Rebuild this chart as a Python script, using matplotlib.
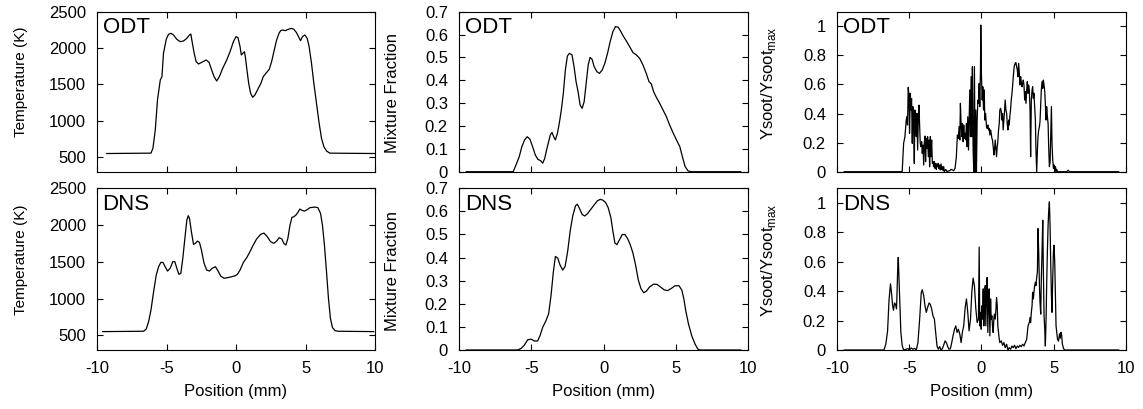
import matplotlib
matplotlib.use("Agg")
import matplotlib.pyplot as plt
from matplotlib.ticker import FuncFormatter

plt.rcParams['font.family'] = ['Liberation Sans', 'DejaVu Sans']
plt.rcParams['axes.unicode_minus'] = False

# ---- temperature (K) ----
odt_T_x = [-9.3, -6.12, -5.98, -5.81, -5.65, -5.45, -5.33, -5.22, -5.02, -4.86, -4.69, -4.50,
           -4.26, -4.02, -3.78, -3.54, -3.35, -3.25, -3.16, -3.01, -2.87, -2.70, -2.46, -2.15,
           -1.94, -1.75, -1.58, -1.39, -1.20, -0.96, -0.67, -0.43, -0.19, 0.0, 0.14, 0.29, 0.38,
           0.60, 0.67, 0.77, 0.91, 1.05, 1.20, 1.36, 1.60, 1.79, 1.96, 2.15, 2.39, 2.56, 2.75,
           2.92, 3.09, 3.21, 3.35, 3.54, 3.76, 4.00, 4.16, 4.35, 4.52, 4.64, 4.78, 4.95, 5.12,
           5.26, 5.43, 5.60, 5.79, 5.98, 6.15, 6.32, 6.51, 6.75, 10.0]
odt_T = [550, 555, 621, 873, 1286, 1561, 1607, 1928, 2120, 2189, 2203, 2180,
         2120, 2088, 2097, 2134, 2180, 2193, 2088, 1928, 1813, 1781, 1804, 1836,
         1804, 1698, 1607, 1547, 1607, 1721, 1836, 1950, 2088, 2157, 2143, 2019, 1905,
         1950, 1882, 1721, 1515, 1378, 1323, 1355, 1446, 1515, 1607, 1653, 1708, 1813, 1973,
         2111, 2203, 2239, 2248, 2239, 2258, 2271, 2258, 2212, 2148, 2102, 2157, 2180, 2134,
         2019, 1790, 1515, 1240, 965, 759, 644, 585, 555, 550]

dns_T_x = [-9.6, -6.65, -6.46, -6.29, -6.12, -5.93, -5.74, -5.57, -5.41, -5.26, -5.10, -4.93,
           -4.74, -4.55, -4.40, -4.26, -4.11, -3.97, -3.83, -3.68, -3.54, -3.44, -3.35, -3.21,
           -3.06, -2.92, -2.78, -2.63, -2.49, -2.30, -2.11, -1.91, -1.72, -1.48, -1.29, -1.10,
           -0.86, -0.62, -0.38, -0.05, 0.10, 0.29, 0.53, 0.77, 1.00, 1.24, 1.48, 1.77, 2.01,
           2.25, 2.49, 2.73, 2.92, 3.11, 3.30, 3.44, 3.59, 3.73, 3.88, 4.02, 4.16, 4.31, 4.45,
           4.59, 4.74, 4.93, 5.12, 5.31, 5.69, 5.89, 6.08, 6.22, 6.36, 6.51, 6.65, 6.79, 6.94,
           7.13, 7.34, 9.9]
dns_T = [550, 555, 586, 685, 844, 1093, 1320, 1433, 1492, 1492, 1433, 1374,
         1411, 1501, 1501, 1411, 1329, 1343, 1547, 1819, 2068, 2127, 2091, 1909,
         1737, 1751, 1782, 1764, 1660, 1479, 1388, 1374, 1411, 1433, 1374, 1306,
         1275, 1284, 1293, 1311, 1329, 1388, 1492, 1556, 1637, 1728, 1810, 1873, 1891,
         1841, 1773, 1751, 1782, 1828, 1810, 1751, 1728, 1819, 1996, 2104, 2113, 2136, 2172,
         2218, 2200, 2190, 2209, 2236, 2245, 2236, 2159, 1996, 1728, 1365, 1003, 731, 604,
         563, 555, 550]

# ---- mixture fraction ----
odt_Z_x = [-9.5, -6.25, -6.06, -5.83, -5.65, -5.46, -5.28, -5.09, -4.91, -4.72, -4.54, -4.35,
           -4.21, -4.07, -3.94, -3.80, -3.68, -3.56, -3.45, -3.33, -3.19, -3.06, -2.92, -2.78,
           -2.64, -2.50, -2.36, -2.18, -2.04, -1.90, -1.76, -1.62, -1.48, -1.34, -1.20, -1.06,
           -0.93, -0.79, -0.65, -0.46, -0.28, -0.09, 0.09, 0.28, 0.46, 0.65, 0.83, 1.02, 1.20,
           1.39, 1.57, 1.81, 2.04, 2.27, 2.50, 2.73, 2.96, 3.15, 3.31, 3.47, 3.66, 3.89, 4.12,
           4.35, 4.58, 4.81, 5.05, 5.28, 5.46, 5.65, 5.86, 6.09, 9.5]
odt_Z = [0, 0, 0.029, 0.066, 0.110, 0.139, 0.153, 0.142, 0.110, 0.073, 0.054, 0.048,
         0.037, 0.058, 0.095, 0.131, 0.161, 0.172, 0.153, 0.139, 0.168, 0.212, 0.270, 0.343,
         0.445, 0.506, 0.518, 0.511, 0.460, 0.394, 0.350, 0.292, 0.277, 0.306, 0.387, 0.467,
         0.500, 0.492, 0.460, 0.438, 0.430, 0.445, 0.474, 0.518, 0.569, 0.613, 0.635, 0.632, 0.613,
         0.591, 0.573, 0.547, 0.521, 0.511, 0.496, 0.467, 0.430, 0.394, 0.384, 0.350, 0.325, 0.299,
         0.270, 0.241, 0.204, 0.171, 0.139, 0.110, 0.066, 0.022, 0.003, 0, 0]

dns_Z_x = [-9.5, -5.95, -5.72, -5.49, -5.25, -5.02, -4.79, -4.56, -4.40, -4.21, -3.98, -3.80,
           -3.63, -3.47, -3.33, -3.17, -3.01, -2.82, -2.66, -2.48, -2.31, -2.13, -1.94, -1.81,
           -1.67, -1.48, -1.30, -1.11, -0.88, -0.65, -0.42, -0.23, -0.05, 0.14, 0.32, 0.51,
           0.65, 0.79, 0.93, 1.11, 1.30, 1.48, 1.67, 1.85, 2.04, 2.22, 2.41, 2.59, 2.78, 2.96,
           3.19, 3.47, 3.70, 3.94, 4.21, 4.44, 4.68, 4.95, 5.23, 5.42, 5.56, 5.69, 5.88, 6.11,
           6.34, 6.53, 6.67, 9.5]
dns_Z = [0, 0, 0.006, 0.020, 0.044, 0.047, 0.039, 0.039, 0.061, 0.098, 0.127, 0.156,
         0.237, 0.339, 0.405, 0.398, 0.368, 0.346, 0.361, 0.427, 0.514, 0.580, 0.624, 0.631,
         0.614, 0.587, 0.580, 0.590, 0.609, 0.628, 0.646, 0.652, 0.649, 0.639, 0.617, 0.573,
         0.514, 0.463, 0.456, 0.478, 0.500, 0.500, 0.482, 0.456, 0.419, 0.368, 0.303, 0.266,
         0.248, 0.254, 0.273, 0.285, 0.284, 0.273, 0.260, 0.257, 0.266, 0.278, 0.278, 0.259,
         0.222, 0.171, 0.113, 0.061, 0.025, 0.004, 0, 0]

# ---- normalised soot mass fraction ----
odt_S_x = [-9.5, -5.49, -5.39, -5.30, -5.21, -5.16, -5.12, -5.07, -5.02, -4.98, -4.93, -4.88,
           -4.84, -4.79, -4.75, -4.70, -4.65, -4.61, -4.56, -4.51, -4.47, -4.42, -4.37, -4.33,
           -4.28, -4.24, -4.19, -4.14, -4.10, -4.05, -4.00, -3.96, -3.91, -3.87, -3.82, -3.77,
           -3.73, -3.68, -3.63, -3.59, -3.54, -3.50, -3.45, -3.40, -3.36, -3.31, -3.26, -3.22,
           -3.17, -3.13, -3.08, -3.03, -2.99, -2.94, -2.89, -2.85, -2.80, -2.75, -2.71, -2.66,
           -2.62, -2.57, -2.48, -2.38, -2.29, -2.20, -2.11, -2.01, -1.92, -1.83, -1.74, -1.67,
           -1.60, -1.55, -1.50, -1.46, -1.41, -1.37, -1.32, -1.27, -1.23, -1.18, -1.13, -1.09,
           -1.04, -1.00, -0.95, -0.90, -0.86, -0.81, -0.76, -0.72, -0.67, -0.63, -0.58, -0.53,
           -0.49, -0.44, -0.39, -0.35, -0.30, -0.25, -0.21, -0.16, -0.12, -0.07, -0.05, 0.00,
           0.05, 0.09, 0.14, 0.19, 0.23, 0.28, 0.35, 0.39, 0.44, 0.49, 0.53, 0.58, 0.63, 0.67,
           0.72, 0.76, 0.81, 0.86, 0.90, 0.95, 1.00, 1.04, 1.09, 1.13, 1.18, 1.23, 1.27, 1.32,
           1.37, 1.41, 1.46, 1.50, 1.55, 1.60, 1.64, 1.69, 1.74, 1.78, 1.83, 1.88, 1.92, 1.97,
           2.01, 2.06, 2.11, 2.15, 2.20, 2.25, 2.29, 2.34, 2.38, 2.43, 2.48, 2.52, 2.57, 2.62,
           2.66, 2.71, 2.75, 2.80, 2.85, 2.89, 2.94, 2.99, 3.03, 3.08, 3.13, 3.17, 3.22, 3.26,
           3.31, 3.36, 3.40, 3.45, 3.50, 3.54, 3.59, 3.63, 3.68, 3.73, 3.77, 3.82, 3.87, 3.91,
           3.96, 4.01, 4.05, 4.10, 4.14, 4.19, 4.24, 4.28, 4.33, 4.38, 4.42, 4.47, 4.51, 4.56,
           4.61, 4.65, 4.70, 4.75, 4.79, 4.84, 4.88, 4.93, 4.98, 5.02, 5.07, 5.12, 5.16, 5.21,
           5.26, 5.9, 6.0, 6.1, 9.5]
odt_S = [0, 0, 0.195, 0.241, 0.355, 0.378, 0.321, 0.580, 0.516, 0.264, 0.539, 0.424,
         0.504, 0.195, 0.447, 0.355, 0.057, 0.424, 0.310, 0.241, 0.401, 0.149, 0.378, 0.458,
         0.310, 0.195, 0.172, 0.206, 0.126, 0.183, 0.046, 0.195, 0.245, 0.069, 0.229, 0.161,
         0.241, 0.103, 0.218, 0.034, 0.241, 0.103, 0.218, 0.057, 0.069, 0.034, 0.069, 0.023,
         0.057, 0.016, 0.053, 0.034, 0.057, 0.021, 0.046, 0.012, 0.053, 0.016, 0.034, 0.007,
         0.034, 0, 0.016, 0, 0.005, 0.007, 0.016, 0.012, 0.007, 0.023, 0.103, 0.252,
         0.229, 0.310, 0.218, 0.470, 0.321, 0.241, 0.332, 0.206, 0.321, 0.229, 0.264, 0.218,
         0.332, 0.172, 0.378, 0.149, 0.332, 0.562, 0.241, 0.653, 0.241, 0.722, 0.149, 0,
         0.722, 0, 0.424, 0, 0.355, 0.493, 0.470, 0.607, 0.447, 0.699, 1.008, 0.653,
         0.493, 0.584, 0.424, 0.562, 0.355, 0.401, 0.310, 0.298, 0.321, 0.287, 0.298, 0.252, 0.287, 0.264,
         0.229, 0.218, 0.172, 0.115, 0.149, 0.218, 0.149, 0.103, 0.172, 0.206, 0.287, 0.332, 0.424, 0.436,
         0.413, 0.355, 0.401, 0.287, 0.355, 0.424, 0.493, 0.424, 0.401, 0.332, 0.287, 0.355, 0.321, 0.390,
         0.424, 0.493, 0.539, 0.584, 0.653, 0.711, 0.734, 0.745, 0.750, 0.722, 0.699, 0.653, 0.745, 0.676,
         0.596, 0.653, 0.619, 0.584, 0.607, 0.630, 0.596, 0.493, 0.550, 0.470, 0.562, 0.619, 0.539, 0.596,
         0.562, 0.424, 0.103, 0.493, 0.562, 0.584, 0.504, 0.539, 0.447, 0.355, 0.149, 0, 0.149, 0.241,
         0.287, 0.310, 0.344, 0.470, 0.562, 0.619, 0.573, 0.630, 0.596, 0.550, 0.470, 0.355, 0.447, 0.378,
         0.332, 0.172, 0.034, 0.069, 0.241, 0.447, 0.195, 0.080, 0.023, 0.046, 0.012, 0.034, 0, 0.016,
         0, 0, 0.01, 0, 0]

dns_S_x = [-9.5, -6.75, -6.62, -6.50, -6.40, -6.30, -6.22, -6.15, -6.09, -6.02, -5.95, -5.88,
           -5.80, -5.76, -5.70, -5.67, -5.58, -5.49, -5.39, -5.21, -5.09, -4.98, -4.86, -4.75,
           -4.63, -4.51, -4.40, -4.28, -4.17, -4.10, -4.00, -3.91, -3.82, -3.73, -3.63, -3.54,
           -3.45, -3.36, -3.26, -3.17, -3.08, -2.99, -2.89, -2.80, -2.71, -2.62, -2.52, -2.43,
           -2.34, -2.25, -2.15, -2.06, -1.97, -1.87, -1.78, -1.69, -1.60, -1.50, -1.41, -1.32,
           -1.23, -1.13, -1.04, -0.95, -0.86, -0.76, -0.67, -0.58, -0.49, -0.39, -0.30, -0.21,
           -0.16, -0.12, -0.07, -0.02, 0.02, 0.07, 0.12, 0.16, 0.21, 0.26, 0.30, 0.35, 0.39,
           0.44, 0.49, 0.53, 0.58, 0.63, 0.67, 0.72, 0.76, 0.81, 0.86, 0.90, 0.95, 1.00, 1.04,
           1.09, 1.13, 1.18, 1.23, 1.27, 1.37, 1.46, 1.55, 1.64, 1.74, 1.83, 1.92, 2.01, 2.11,
           2.20, 2.29, 2.38, 2.48, 2.57, 2.66, 2.75, 2.85, 2.94, 3.03, 3.13, 3.22, 3.31, 3.36,
           3.40, 3.45, 3.50, 3.54, 3.59, 3.63, 3.68, 3.73, 3.77, 3.82, 3.87, 3.91, 3.96, 4.01,
           4.05, 4.10, 4.14, 4.19, 4.24, 4.28, 4.33, 4.38, 4.42, 4.47, 4.51, 4.56, 4.61, 4.65,
           4.70, 4.75, 4.79, 4.84, 4.88, 4.93, 4.98, 5.02, 5.07, 5.12, 5.16, 5.21, 5.26, 5.33,
           5.40, 5.45, 5.50, 5.55, 5.60, 5.68, 5.75, 9.5]
dns_S = [0, 0, 0.04, 0.13, 0.34, 0.45, 0.38, 0.30, 0.27, 0.32, 0.31, 0.28,
         0.55, 0.63, 0.45, 0.37, 0.12, 0.03, 0, 0.005, 0.009, 0, 0.014, 0.005,
         0.011, 0, 0.05, 0.21, 0.39, 0.41, 0.37, 0.30, 0.256, 0.29, 0.32, 0.31,
         0.28, 0.233, 0.21, 0.119, 0.027, 0.005, 0.023, 0, 0.009, 0.032, 0.062, 0.05,
         0.023, 0.005, 0.009, 0.05, 0.096, 0.141, 0.164, 0.119, 0.141, 0.107, 0.05, 0.123,
         0.164, 0.29, 0.347, 0.256, 0.13, 0.21, 0.393, 0.489, 0.438, 0.278, 0.187, 0.21,
         0.70, 0.164, 0.256, 0.141, 0.30, 0.21, 0.416, 0.164, 0.347, 0.438, 0.164, 0.438, 0.493,
         0.119, 0.393, 0.416, 0.096, 0.347, 0.21, 0.233, 0.164, 0.119, 0.221, 0.244, 0.21, 0.278, 0.357,
         0.301, 0.164, 0.119, 0.073, 0.05, 0.062, 0.032, 0.05, 0.016, 0.039, 0, 0.016, 0.005, 0.027,
         0.016, 0.032, 0.009, 0.027, 0.018, 0.032, 0.023, 0.039, 0.027, 0.05, 0.073, 0.164, 0.187, 0.221,
         0.187, 0.256, 0.301, 0.393, 0.347, 0.393, 0.438, 0.461, 0.438, 0.493, 0.53, 0.826, 0.667, 0.438,
         0.324, 0.244, 0.484, 0.667, 0.883, 0.553, 0.233, 0.141, 0.027, 0.21, 0.438, 0.667, 0.849, 0.94,
         1.008, 0.826, 0.598, 0.37, 0.256, 0.484, 0.667, 0.713, 0.598, 0.37, 0.164, 0.119, 0.073, 0.06,
         0.11, 0.08, 0.12, 0.10, 0.04, 0.01, 0, 0]

x_ticks = [-10, -5, 0, 5, 10]
row_names = ['ODT', 'DNS']

fig = plt.figure(figsize=(11.43, 4.09), dpi=100)

lefts = [0.0849, 0.4016, 0.7323]
widths = [0.2432, 0.2528, 0.2528]
bottoms = [0.5802, 0.1443]
heights = [0.3912, 0.3953]

panels = [
    [(odt_T_x, odt_T), (odt_Z_x, odt_Z), (odt_S_x, odt_S)],
    [(dns_T_x, dns_T), (dns_Z_x, dns_Z), (dns_S_x, dns_S)],
]
ylims = [(300, 2500), (0, 0.7), (0, 1.1)]
yticks = [[500, 1000, 1500, 2000, 2500],
          [0, 0.1, 0.2, 0.3, 0.4, 0.5, 0.6, 0.7],
          [0, 0.2, 0.4, 0.6, 0.8, 1.0]]
ylabels = ['Temperature (K)', 'Mixture Fraction', r'Ysoot/Ysoot$_{\mathregular{max}}$']
ylabel_size = [11, 12, 12]
ylabel_x = [-0.25, -0.205, -0.205]
ylabel_y = [0.56, 0.49, 0.555]

for r in range(2):
    for c in range(3):
        ax = fig.add_axes([lefts[c], bottoms[r], widths[c], heights[r]])
        xs, ys = panels[r][c]
        ax.plot(xs, ys, color='black', lw=0.9)
        ax.set_xlim(-10, 10)
        ax.set_ylim(*ylims[c])
        ax.set_xticks(x_ticks)
        ax.set_yticks(yticks[c])
        ax.yaxis.set_major_formatter(FuncFormatter(lambda v, p: '%g' % v))
        ax.xaxis.set_major_formatter(FuncFormatter(lambda v, p: '%g' % v))
        ax.tick_params(direction='in', top=True, right=True, length=4, width=0.8,
                       labelsize=12, pad=8)
        for sp in ax.spines.values():
            sp.set_linewidth(0.8)
        ax.set_ylabel(ylabels[c], fontsize=ylabel_size[c])
        ax.yaxis.set_label_coords(ylabel_x[c], ylabel_y[c])
        ax.text(0.02, 0.965, row_names[r], transform=ax.transAxes, ha='left', va='top',
                fontsize=16)
        if r == 0:
            ax.tick_params(labelbottom=False)
        else:
            ax.set_xlabel('Position (mm)', fontsize=12, labelpad=6)

fig.savefig('out.png', dpi=100)
